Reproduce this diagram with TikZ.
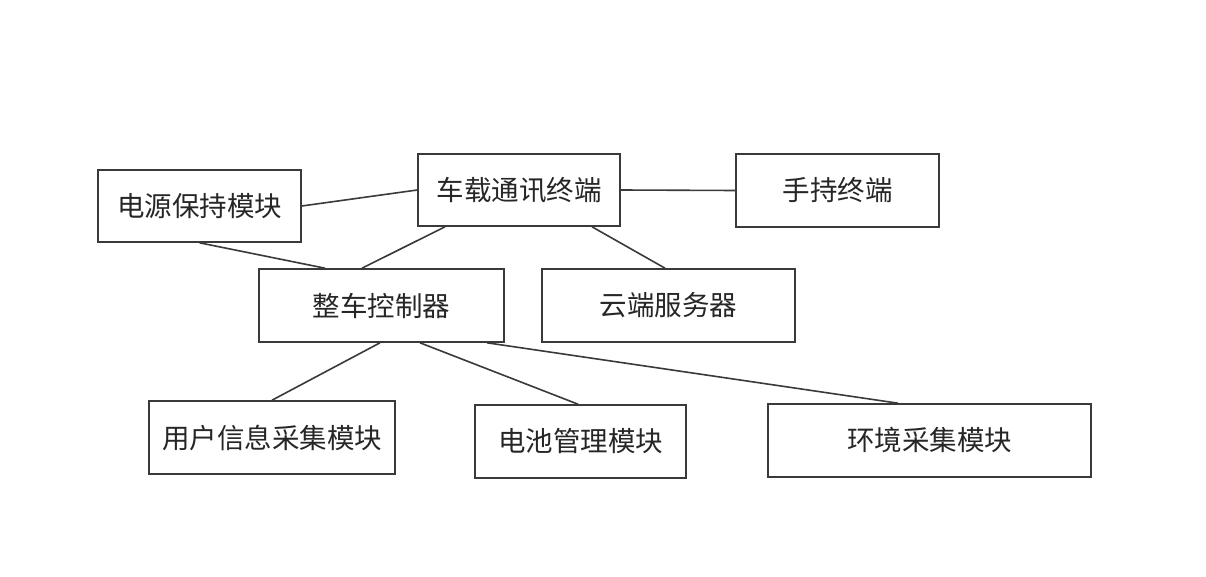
\documentclass[tikz,border=0pt]{standalone}
\usepackage{fontspec}
\newfontfamily\cjk{Noto Sans CJK SC}
\definecolor{linec}{HTML}{3A3A3A}
\definecolor{textc}{HTML}{262626}
\begin{document}
\begin{tikzpicture}[x=1pt,y=-1pt,
  box/.style={draw=linec,line width=1.6pt,fill=white,inner sep=0pt,
    font=\cjk\fontsize{27.5}{32}\selectfont,text=textc},
  link/.style={draw=linec,line width=1.6pt}]
\useasboundingbox[fill=white] (0,0) rectangle (1206,577);
\node[box,minimum width=203pt,minimum height=72pt] (dy) at (199.5,206) {电源保持模块};
\node[box,minimum width=202pt,minimum height=72pt] (cz) at (519,190) {车载通讯终端};
\node[box,minimum width=203pt,minimum height=73pt] (sc) at (837.5,190.5) {手持终端};
\node[box,minimum width=245pt,minimum height=73pt] (zc) at (381.5,305.5) {整车控制器};
\node[box,minimum width=253pt,minimum height=73pt] (yd) at (668.5,305.5) {云端服务器};
\node[box,minimum width=246pt,minimum height=73pt] (yh) at (272,437.5) {用户信息采集模块};
\node[box,minimum width=211pt,minimum height=73pt] (dc) at (580.5,441.5) {电池管理模块};
\node[box,minimum width=323pt,minimum height=73pt] (hj) at (929.5,440.5) {环境采集模块};
\draw[link] (dy.east) -- (cz.west);
\draw[link] (cz.east) -- (sc.west);
\draw[link] (dy.south) -- ([xshift=-56.5pt]zc.north);
\draw[link] ([xshift=-74pt]cz.south) -- ([xshift=-19.5pt]zc.north);
\draw[link] ([xshift=73pt]cz.south) -- ([xshift=-3.5pt]yd.north);
\draw[link] ([xshift=-1.5pt]zc.south) -- (yh.north);
\draw[link] ([xshift=38.5pt]zc.south) -- ([xshift=-2.5pt]dc.north);
\draw[link] ([xshift=105.5pt]zc.south) -- ([xshift=-31.5pt]hj.north);
\end{tikzpicture}
\end{document}
